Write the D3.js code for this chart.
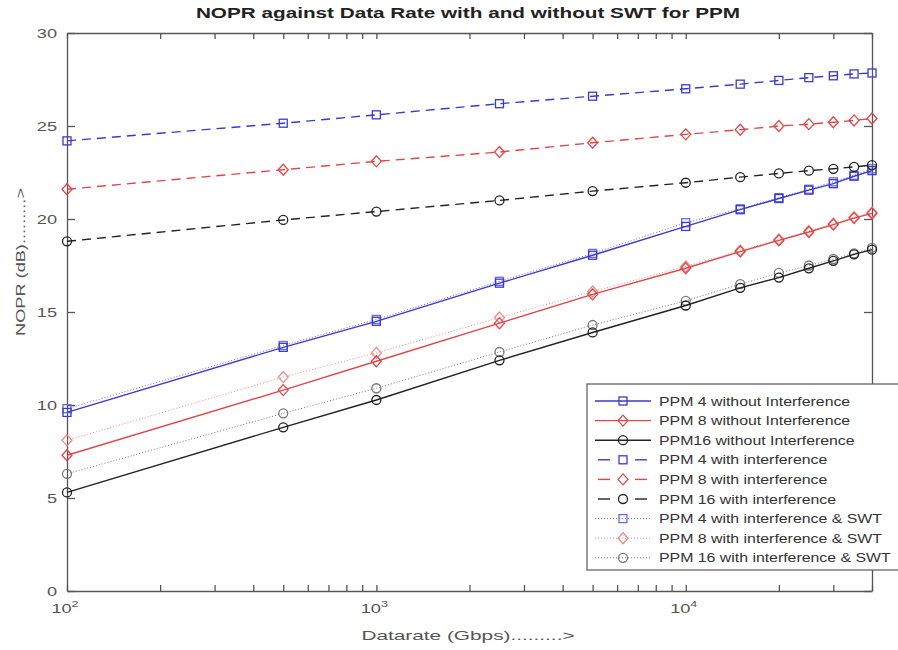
<!DOCTYPE html>
<html>
<head>
<meta charset="utf-8">
<script src="https://cdn.jsdelivr.net/npm/d3@7"></script>
<style>
    body { margin: 0; background: #fff; }
    text { font-family: "Liberation Sans", Arial, sans-serif; }
</style>
</head>
<body>
<div id="chart"></div>
<script>
// Data rates (Gbps)
var rates       =   [ 100, 500, 1000, 2500, 5000, 10000, 15000, 20000, 25000, 30000, 35000, 40000 ];

// NOPR values (dB)
var ppm4_noint  =   [ 9.6, 13.1, 14.5, 16.55, 18.05, 19.6, 20.5, 21.1, 21.55, 21.9, 22.3, 22.6 ];
var ppm8_noint  =   [ 7.3, 10.8, 12.35, 14.4, 15.95, 17.35, 18.25, 18.85, 19.3, 19.7, 20.05, 20.3 ];
var ppm16_noint =   [ 5.3, 8.8, 10.27, 12.4, 13.9, 15.35, 16.3, 16.85, 17.35, 17.75, 18.1, 18.35 ];
var ppm4_int    =   [ 24.2, 25.15, 25.6, 26.2, 26.6, 27.0, 27.25, 27.45, 27.6, 27.7, 27.8, 27.85 ];
var ppm8_int    =   [ 21.6, 22.65, 23.1, 23.6, 24.1, 24.55, 24.8, 25.0, 25.1, 25.2, 25.3, 25.4 ];
var ppm16_int   =   [ 18.8, 19.95, 20.4, 21.0, 21.5, 21.95, 22.25, 22.45, 22.6, 22.7, 22.8, 22.9 ];
var ppm4_swt    =   [ 9.8, 13.2, 14.6, 16.65, 18.15, 19.8, 20.55, 21.15, 21.6, 22.0, 22.35, 22.7 ];
var ppm8_swt    =   [ 8.1, 11.5, 12.8, 14.7, 16.1, 17.45, 18.3, 18.9, 19.35, 19.75, 20.1, 20.35 ];
var ppm16_swt   =   [ 6.3, 9.55, 10.9, 12.85, 14.3, 15.6, 16.5, 17.1, 17.5, 17.85, 18.15, 18.45 ];

var y_ticks     =   [ 0, 5, 10, 15, 20, 25, 30 ];
var x_decades   =   [ 100, 1000, 10000 ];

var series = [
    { name: 'PPM 4 without Interference',        values: ppm4_noint,  color: '#3a3ad0', dash: null,  symbol: 'square',  width: 1.4 },
    { name: 'PPM 8 without Interference',        values: ppm8_noint,  color: '#e04848', dash: null,  symbol: 'diamond', width: 1.4 },
    { name: 'PPM16 without Interference',        values: ppm16_noint, color: '#222222', dash: null,  symbol: 'circle',  width: 1.4 },
    { name: 'PPM 4 with interference',           values: ppm4_int,    color: '#3a3ad0', dash: '9,6', symbol: 'square',  width: 1.4 },
    { name: 'PPM 8 with interference',           values: ppm8_int,    color: '#e04848', dash: '9,6', symbol: 'diamond', width: 1.4 },
    { name: 'PPM 16 with interference',          values: ppm16_int,   color: '#222222', dash: '9,6', symbol: 'circle',  width: 1.4 },
    { name: 'PPM 4 with interference & SWT',     values: ppm4_swt,    color: '#6a6ae0', dash: '1,2', symbol: 'square',  width: 1 },
    { name: 'PPM 8 with interference & SWT',     values: ppm8_swt,    color: '#ee8888', dash: '1,2', symbol: 'diamond', width: 1 },
    { name: 'PPM 16 with interference & SWT',    values: ppm16_swt,   color: '#777777', dash: '1,2', symbol: 'circle',  width: 1 }
];

var chart_width     =   898;
var chart_height    =   650;
var plot_left = 67, plot_right = 872, plot_top = 33, plot_bottom = 591;
var stretch = 1.4;   // the reference text is drawn wide

var svg = d3.select('#chart')
    .append('svg')
    .attr('width', chart_width)
    .attr('height', chart_height);

// stretched text helper
function wide_text(parent, x, y, sx, rot) {
    return parent.append('text')
        .attr('transform', 'translate(' + x + ',' + y + ')' + (rot ? ' rotate(' + rot + ')' : '') + ' scale(' + sx + ',1)');
}

// Scales
var x_scale = d3.scaleLog()
    .domain([ 100, 40000 ])
    .range([ plot_left, plot_right ]);

var y_scale = d3.scaleLinear()
    .domain([ 0, 30 ])
    .range([ plot_bottom, plot_top ]);

// Axes (MATLAB style, inward ticks, boxed)
var axis_color = '#555';
var minor_ticks = x_scale.ticks().filter(function(d){
    return x_decades.indexOf(d) < 0;
});

var x_axis_bottom = d3.axisBottom(x_scale)
    .tickValues(x_decades.concat(minor_ticks))
    .tickSizeInner(-6).tickSizeOuter(0)
    .tickFormat('');
var x_axis_top = d3.axisTop(x_scale)
    .tickValues(x_decades.concat(minor_ticks))
    .tickSizeInner(-6).tickSizeOuter(0)
    .tickFormat('');
var y_axis_left = d3.axisLeft(y_scale)
    .tickValues(y_ticks)
    .tickSizeInner(-8).tickSizeOuter(0)
    .tickFormat('');
var y_axis_right = d3.axisRight(y_scale)
    .tickValues(y_ticks)
    .tickSizeInner(-8).tickSizeOuter(0)
    .tickFormat('');

svg.append('g')
    .attr('transform', 'translate(0,' + plot_bottom + ')')
    .call(x_axis_bottom);
svg.append('g')
    .attr('transform', 'translate(0,' + plot_top + ')')
    .call(x_axis_top);
svg.append('g')
    .attr('transform', 'translate(' + plot_left + ',0)')
    .call(y_axis_left);
svg.append('g')
    .attr('transform', 'translate(' + plot_right + ',0)')
    .call(y_axis_right);

svg.selectAll('.domain, .tick line')
    .attr('stroke', axis_color)
    .attr('stroke-width', 1.3);

// Y tick labels
var ylab = svg.append('g');
y_ticks.forEach(function(v){
    wide_text(ylab, plot_left - 10, y_scale(v) + 4.5, stretch)
        .attr('text-anchor', 'end')
        .attr('fill', '#555')
        .style('font-size', '13px')
        .text(v);
});

// Decade labels 10^n
var xlab = svg.append('g');
x_decades.forEach(function(v){
    var t = wide_text(xlab, x_scale(v) - 2, 613, stretch)
        .attr('text-anchor', 'middle')
        .attr('fill', '#555')
        .style('font-size', '13px');
    t.append('tspan').text('10');
    t.append('tspan')
        .attr('dy', -6)
        .style('font-size', '9px')
        .text(Math.round(Math.log10(v)));
});

// Title and axis labels
wide_text(svg, 468, 18, 1.48)
    .attr('text-anchor', 'middle')
    .attr('fill', '#222')
    .style('font-size', '14px')
    .style('font-weight', 'bold')
    .text('NOPR against Data Rate with and without SWT for PPM');

wide_text(svg, 468, 640, 1.6)
    .attr('text-anchor', 'middle')
    .attr('fill', '#555')
    .style('font-size', '13px')
    .text('Datarate (Gbps).........>');

wide_text(svg, 25, 262, 1.4, -90)
    .attr('text-anchor', 'middle')
    .attr('fill', '#555')
    .style('font-size', '13px')
    .text('NOPR (dB).........>');

// Markers
function marker(g, symbol, color) {
    if (symbol === 'square') {
        g.append('rect').attr('x', -4).attr('y', -4).attr('width', 8).attr('height', 8);
    } else if (symbol === 'diamond') {
        g.append('path').attr('d', 'M0,-5.5L5,0L0,5.5L-5,0Z');
    } else {
        g.append('circle').attr('r', 4.5);
    }
    g.selectAll('*')
        .attr('fill', 'none')
        .attr('stroke', color)
        .attr('stroke-width', 1.3);
}

var line = d3.line()
    .x(function(d){ return x_scale(d[0]); })
    .y(function(d){ return y_scale(d[1]); });

// Draw SWT (dotted) first, then others on top
var order = [ 6, 7, 8, 0, 1, 2, 3, 4, 5 ];
order.forEach(function(i){
    var s = series[i];
    var pts = rates.map(function(r, j){ return [ r, s.values[j] ]; });
    var g = svg.append('g');
    g.append('path')
        .datum(pts)
        .attr('d', line)
        .attr('fill', 'none')
        .attr('stroke', s.color)
        .attr('stroke-width', s.width)
        .attr('stroke-dasharray', s.dash);
    g.selectAll('g.pt')
        .data(pts)
        .enter()
        .append('g')
        .attr('class', 'pt')
        .attr('transform', function(d){
            return 'translate(' + x_scale(d[0]) + ',' + y_scale(d[1]) + ')';
        })
        .each(function(){ marker(d3.select(this), s.symbol, s.color); });
});

// Legend
var legend = svg.append('g').attr('transform', 'translate(587,384)');
legend.append('rect')
    .attr('width', 330).attr('height', 186)
    .attr('fill', '#fff')
    .attr('stroke', '#666')
    .attr('stroke-width', 1.3);

var rows = legend.selectAll('g.row')
    .data(series)
    .enter()
    .append('g')
    .attr('class', 'row')
    .attr('transform', function(d, i){ return 'translate(0,' + (17 + i * 19.6) + ')'; });

rows.each(function(d){
    var r = d3.select(this);
    if (d.dash === '9,6') {
        // short dash on each side of the marker
        [ [ 11, 23 ], [ 48, 60 ] ].forEach(function(seg){
            r.append('line')
                .attr('x1', seg[0]).attr('x2', seg[1])
                .attr('stroke', d.color)
                .attr('stroke-width', d.width);
        });
    } else {
        r.append('line')
            .attr('x1', 8).attr('x2', 64)
            .attr('stroke', d.color)
            .attr('stroke-width', d.width)
            .attr('stroke-dasharray', d.dash);
    }
    marker(r.append('g').attr('transform', 'translate(36,0)'), d.symbol, d.color);
    wide_text(r, 72, 4.5, 1.27)
        .attr('fill', '#333')
        .style('font-size', '12.5px')
        .text(d.name);
});
</script>
</body>
</html>
